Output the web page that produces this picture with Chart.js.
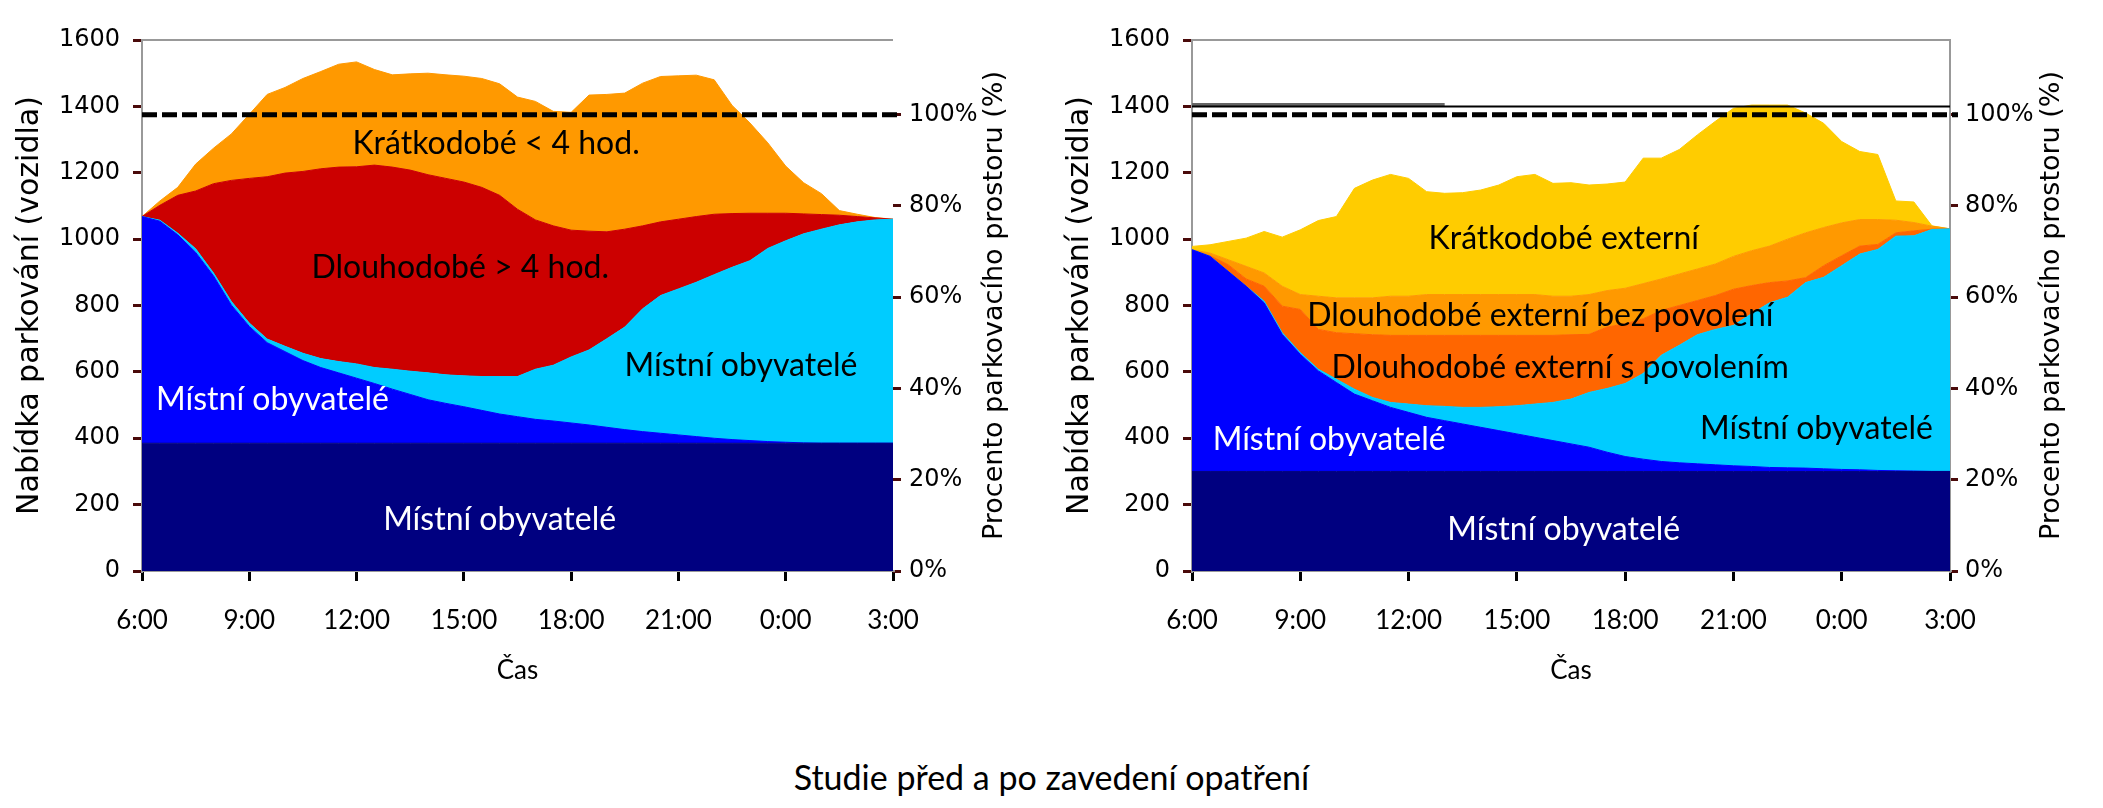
<!DOCTYPE html>
<html>
<head>
<meta charset="utf-8">
<script src="https://cdn.jsdelivr.net/npm/chart.js@4.4.1/dist/chart.umd.min.js"></script>
<style>
  html, body { margin: 0; padding: 0; background: #fff; }
  body { width: 2103px; height: 808px; position: relative; overflow: hidden; }
  .box { position: absolute; top: 0; height: 720px; }
  #leftBox { left: 0; width: 1050px; }
  #rightBox { left: 1050px; width: 1053px; }
  #caption { position: absolute; left: 0; width: 2103px; top: 757px; line-height: 40px;
             text-align: center; font-family: Lato, sans-serif; font-size: 34px; color: #000; }
</style>
</head>
<body>
<div class="box" id="leftBox"><canvas id="chartBefore"></canvas></div>
<div class="box" id="rightBox"><canvas id="chartAfter"></canvas></div>
<div id="caption">Studie před a po zavedení opatření</div>
<script>
// time axis, every 30 minutes from 6:00 to 3:00 next day
const TIME_LABELS = ['6:00','6:30','7:00','7:30','8:00','8:30','9:00','9:30','10:00','10:30',
  '11:00','11:30','12:00','12:30','13:00','13:30','14:00','14:30','15:00','15:30',
  '16:00','16:30','17:00','17:30','18:00','18:30','19:00','19:30','20:00','20:30',
  '21:00','21:30','22:00','22:30','23:00','23:30','0:00','0:30','1:00','1:30',
  '2:00','2:30','3:00'];

const Y_TICKS_MAX = 1600;
const CAPACITY = 1375;        // 100 % of parking space
const SUPPLY_AFTER = 1400;    // solid line, right chart
const SUPPLY_OLD = 1406;      // grey line, right chart, 6:00 - 13:00

// --- before (left chart), vehicles per layer ---
const before_residentsBase = [385,385,385,385,385,385,385,385,385,385,385,385,385,385,385,385,385,385,385,385,
  385,385,385,385,385,385,385,385,385,385,385,385,385,385,385,385,385,385,385,385,385,385,385];
const before_residentsLeaving = [683,669,628,575,504,416,352,303,276,249,228,212,196,180,163,147,131,120,110,99,
  88,80,72,67,61,55,48,41,35,30,25,20,15,11,8,5,3,1,0,0,0,0,0];
const before_residentsReturning = [0,3,5,11,9,11,10,11,16,22,27,34,43,48,60,70,81,86,93,102,
  113,121,151,168,199,226,267,309,370,415,440,465,493,519,542,582,607,630,645,658,667,673,675];
const before_longTerm = [0,45,114,174,269,365,436,489,522,548,572,586,594,610,609,606,597,592,584,570,
  546,504,450,420,382,358,322,295,250,222,210,198,182,162,143,106,83,60,44,29,16,6,0];
const before_shortTerm = [0,13,24,81,107,140,193,248,258,280,293,310,316,288,278,290,306,312,319,328,
  336,338,357,345,355,410,414,410,430,438,432,426,405,326,272,212,142,94,63,14,7,1,0];

// --- after (right chart) ---
const after_residentsBase = [300,300,300,300,300,300,300,300,300,300,300,300,300,300,300,300,300,300,300,300,
  300,300,300,300,300,300,300,300,300,300,300,300,300,300,300,300,300,300,300,300,300,300,300];
const after_residentsLeaving = [668,648,603,558,508,413,353,303,268,233,213,193,178,163,153,143,133,123,113,103,
  93,83,73,58,45,37,30,26,23,20,17,15,12,11,10,8,6,5,3,2,1,0,0];
const after_residentsReturning = [0,0,0,0,5,5,5,5,10,15,10,15,25,35,43,50,60,72,85,100,
  115,135,165,192,220,258,320,354,389,408,423,460,496,514,559,577,614,650,666,707,709,729,731];
const after_longPermit = [0,2,20,22,45,80,130,120,140,167,189,202,207,212,214,217,217,215,212,207,
  202,194,175,185,180,165,135,120,103,102,109,85,61,49,15,35,30,24,15,10,15,1,0];
const after_longNoPermit = [0,8,15,38,40,60,45,100,105,108,111,118,118,123,123,123,123,123,123,123,
  118,116,120,110,107,106,95,95,95,95,99,105,110,126,135,115,99,80,75,38,25,9,0];
const after_shortExternal = [10,25,55,85,125,148,195,228,245,330,355,367,355,310,305,307,315,330,355,362,
  340,342,330,321,320,378,364,375,404,430,446,439,425,404,361,314,245,205,196,58,62,1,0];

const NAVY = '#000080', BLUE = '#0000ff', CYAN = '#00ccff', RED = '#cc0000',
      ORANGE = '#ff9900', DARK_ORANGE = '#ff6600', YELLOW = '#ffcc00';
const TICK_RED = '#4a0a0a';

function layer(data, color, first) {
  return {
    data: data,
    backgroundColor: color,
    borderColor: color,
    borderWidth: 1,
    pointRadius: 0,
    tension: 0,
    fill: first ? 'origin' : '-1'
  };
}

// text written inside the areas, placed through the scales
const areaLabels = {
  id: 'areaLabels',
  afterDatasetsDraw(chart, args, opts) {
    const {ctx, scales: {x, y}} = chart;
    ctx.save();
    ctx.font = '32px Lato';
    ctx.textAlign = 'center';
    ctx.textBaseline = 'middle';
    opts.items.forEach(it => {
      ctx.fillStyle = it.color;
      ctx.fillText(it.text, x.getPixelForValue(it.at), y.getPixelForValue(it.value));
    });
    ctx.restore();
  }
};

// horizontal reference lines
const refLines = {
  id: 'refLines',
  afterDatasetsDraw(chart, args, opts) {
    const {ctx, chartArea: a, scales: {x, y}} = chart;
    ctx.save();
    opts.lines.forEach(l => {
      const py = y.getPixelForValue(l.value);
      const x0 = l.from != null ? x.getPixelForValue(l.from) : a.left;
      const x1 = l.to != null ? x.getPixelForValue(l.to) : a.right + (l.overhang || 0);
      ctx.strokeStyle = l.color;
      ctx.lineWidth = l.width;
      ctx.setLineDash(l.dash || []);
      ctx.beginPath();
      ctx.moveTo(x0, py);
      ctx.lineTo(x1, py);
      ctx.stroke();
    });
    ctx.restore();
  }
};

// grey frame (top line, optional right line) and the right hand title
const frame = {
  id: 'frame',
  beforeDatasetsDraw(chart, args, opts) {
    const {ctx, chartArea: a} = chart;
    ctx.save();
    ctx.strokeStyle = '#999';
    ctx.lineWidth = 2;
    ctx.beginPath();
    ctx.moveTo(a.left, a.top);
    ctx.lineTo(a.right, a.top);
    if (opts.right) ctx.lineTo(a.right, a.bottom);
    ctx.stroke();
    ctx.restore();
  },
  afterDraw(chart, args, opts) {
    const {ctx, chartArea: a} = chart;
    ctx.save();
    ctx.translate(opts.titleX, (a.top + a.bottom) / 2);
    ctx.rotate(-Math.PI / 2);
    ctx.font = '27px "DejaVu Sans"';
    ctx.fillStyle = '#000';
    ctx.textAlign = 'center';
    ctx.textBaseline = 'middle';
    ctx.fillText('Procento parkovacího prostoru (%)', 0, 0);
    ctx.restore();
  }
};

function makeOptions(rightWidth, tickPadRight, titleX, hasRightBorder, labels, lines) {
  return {
    responsive: true,
    maintainAspectRatio: false,
    animation: false,
    layout: { padding: { top: 40, left: 0, right: 0, bottom: 0 } },
    plugins: {
      legend: { display: false },
      tooltip: { enabled: false },
      areaLabels: { items: labels },
      refLines: { lines: lines },
      frame: { right: hasRightBorder, titleX: titleX }
    },
    scales: {
      x: {
        type: 'category',
        offset: false,
        afterFit(scale) { scale.height = 149; },
        grid: {
          drawOnChartArea: false,
          drawTicks: true,
          tickLength: 10,
          lineWidth: 3,
          color: ctx => (ctx.index % 6 === 0 ? '#000' : 'rgba(0,0,0,0)')
        },
        border: { display: true, color: '#999', width: 2 },
        ticks: {
          autoSkip: false,
          maxRotation: 0,
          padding: 24,
          color: '#000',
          font: { family: 'Lato', size: 26 },
          callback: function (val, idx) { return idx % 6 === 0 ? this.getLabelForValue(val) : ''; }
        },
        title: {
          display: true,
          text: 'Čas',
          color: '#000',
          font: { family: 'Lato', size: 26 },
          padding: { top: 0, bottom: 34 }
        }
      },
      y: {
        stacked: true,
        min: 0,
        max: Y_TICKS_MAX,
        afterFit(scale) { scale.width = 142; },
        grid: { drawOnChartArea: false, drawTicks: true, tickLength: 9, lineWidth: 3, color: TICK_RED },
        border: { display: true, color: '#999', width: 2 },
        ticks: {
          stepSize: 200,
          padding: 13,
          color: '#000',
          font: { family: 'DejaVu Sans', size: 24 },
          callback: v => String(v)
        },
        title: {
          display: true,
          text: 'Nabídka parkování (vozidla)',
          color: '#000',
          font: { family: 'DejaVu Sans', size: 30 },
          padding: { top: 12, bottom: 0 }
        }
      },
      y2: {
        position: 'right',
        min: 0,
        max: Y_TICKS_MAX / CAPACITY * 100,
        afterFit(scale) { scale.width = rightWidth; },
        afterBuildTicks(scale) { scale.ticks = scale.ticks.filter(t => t.value <= 100.001); },
        grid: { drawOnChartArea: false, drawTicks: true, tickLength: 8, lineWidth: 3, color: TICK_RED },
        border: { display: hasRightBorder, color: '#999', width: 2 },
        ticks: {
          stepSize: 20,
          padding: tickPadRight,
          color: '#000',
          font: { family: 'DejaVu Sans', size: 24 },
          callback: v => Math.round(v) + '%'
        }
      }
    }
  };
}

new Chart(document.getElementById('chartBefore'), {
  type: 'line',
  data: {
    labels: TIME_LABELS,
    datasets: [
      layer(before_residentsBase, NAVY, true),
      layer(before_residentsLeaving, BLUE),
      layer(before_residentsReturning, CYAN),
      layer(before_longTerm, RED),
      layer(before_shortTerm, ORANGE)
    ]
  },
  options: makeOptions(157, 8, 995, false, [
    { text: 'Krátkodobé < 4 hod.', at: 19.8, value: 1289, color: '#000' },
    { text: 'Dlouhodobé > 4 hod.', at: 17.8, value: 913, color: '#000' },
    { text: 'Místní obyvatelé', at: 7.3, value: 515, color: '#fff' },
    { text: 'Místní obyvatelé', at: 33.5, value: 620, color: '#000' },
    { text: 'Místní obyvatelé', at: 20, value: 154, color: '#fff' }
  ], [
    { value: CAPACITY, color: '#000', width: 5, dash: [15, 5], overhang: 8 }
  ]),
  plugins: [frame, areaLabels, refLines]
});

new Chart(document.getElementById('chartAfter'), {
  type: 'line',
  data: {
    labels: TIME_LABELS,
    datasets: [
      layer(after_residentsBase, NAVY, true),
      layer(after_residentsLeaving, BLUE),
      layer(after_residentsReturning, CYAN),
      layer(after_longPermit, DARK_ORANGE),
      layer(after_longNoPermit, ORANGE),
      layer(after_shortExternal, YELLOW)
    ]
  },
  options: makeOptions(153, 7, 1002, true, [
    { text: 'Krátkodobé externí', at: 20.6, value: 1000, color: '#000' },
    { text: 'Dlouhodobé externí bez povolení', at: 19.3, value: 768, color: '#000' },
    { text: 'Dlouhodobé externí s povolením', at: 20.4, value: 614, color: '#000' },
    { text: 'Místní obyvatelé', at: 7.6, value: 395, color: '#fff' },
    { text: 'Místní obyvatelé', at: 34.6, value: 428, color: '#000' },
    { text: 'Místní obyvatelé', at: 20.6, value: 124, color: '#fff' }
  ], [
    { value: SUPPLY_OLD, color: '#666', width: 3, from: 0, to: 14 },
    { value: SUPPLY_AFTER, color: '#000', width: 2 },
    { value: CAPACITY, color: '#000', width: 5, dash: [15, 5], overhang: 8 }
  ]),
  plugins: [frame, areaLabels, refLines]
});
</script>
</body>
</html>
